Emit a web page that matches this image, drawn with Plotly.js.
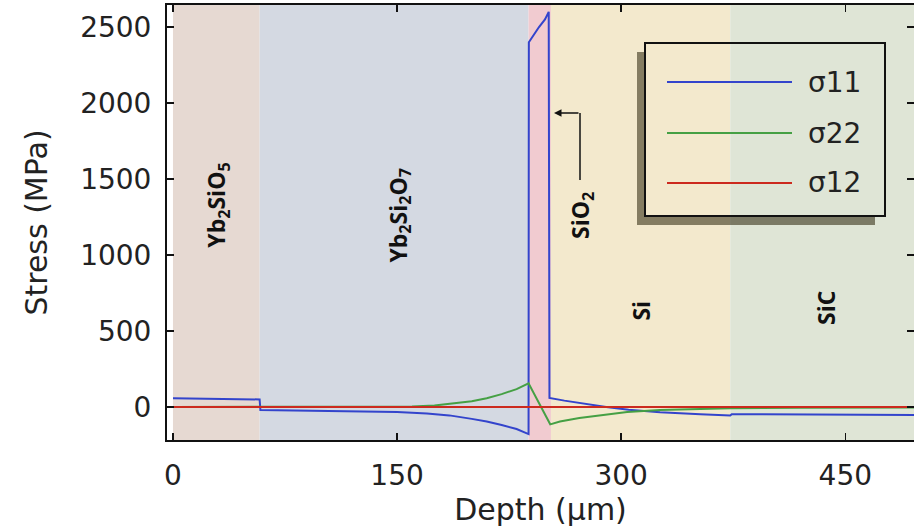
<!DOCTYPE html>
<html>
<head>
<meta charset="utf-8">
<script src="https://cdn.plot.ly/plotly-3.0.1.min.js"></script>
<style>
  html, body { margin: 0; padding: 0; background: #fff; }
  #chart { width: 914px; height: 531px; }
</style>
</head>
<body>
<div id="chart"></div>
<script>
// Layer stack (depth boundaries in µm) and their fill colours
const layerNames = ['<b>Yb<sub>2</sub>SiO<sub>5</sub></b>', '<b>Yb<sub>2</sub>Si<sub>2</sub>O<sub>7</sub></b>',
                    '<b>SiO<sub>2</sub></b>', '<b>Si</b>', '<b>SiC</b>'];
const layerEdges = [0, 58, 238, 253, 373, 500];
const layerColors = ['#e6d9d2', '#d4d9e2', '#f1cbd0', '#f3e9cd', '#dfe5d6'];

// Label anchor for each layer name (depth µm, stress MPa)
const labelDepth = [30, 151, 273, 313, 437];
const labelStress = [1330, 1263, 1263, 632, 651];

// σ11 through the thickness
const depth11 = [0, 58, 58.5, 100, 130, 150, 170, 185, 200, 210, 220, 230, 238, 238.2, 245, 249, 251.5, 252,
                 262, 275, 290, 305, 326, 353, 373, 374, 420, 496];
const sigma11 = [57, 50, -20, -25, -28, -32, -42, -55, -78, -95, -118, -145, -178, 2400, 2500, 2550, 2600, 60,
                 42, 22, 0, -18, -35, -48, -56, -47, -50, -52];

// σ22 through the thickness
const depth22 = [0, 58, 100, 120, 140, 160, 175, 190, 200, 210, 220, 230, 238, 252.5,
                 259, 272, 290, 304, 326, 350, 373, 420, 496];
const sigma22 = [0, 0, 0, 0.5, 2, 4, 10, 24, 38, 58, 85, 118, 156, -114,
                 -95, -72, -48, -33, -20, -14, -8, -4, -3];

// σ12 through the thickness
const depth12 = [-4, 500];
const sigma12 = [0, 0];

const seriesNames = ['σ11', 'σ22', 'σ12'];
const seriesColors = ['#3344cc', '#45a044', '#cc2a1e'];

// plot-area geometry in pixels, used to place the hand-made legend
const L = 167, R = 914, T = 5, B = 440;
const px = x => (x - L) / (R - L);
const py = y => (B - y) / (B - T);

const traces = [
  { x: depth11, y: sigma11, name: seriesNames[0] },
  { x: depth22, y: sigma22, name: seriesNames[1] },
  { x: depth12, y: sigma12, name: seriesNames[2] }
].map((t, i) => Object.assign(t, {
  type: 'scatter', mode: 'lines', showlegend: false, cliponaxis: true,
  line: { color: seriesColors[i], width: 2 }
}));

const shapes = [];
// coloured layer bands
for (let i = 0; i < layerColors.length; i++) {
  shapes.push({ type: 'rect', layer: 'below', xref: 'x', yref: 'paper',
    x0: layerEdges[i], x1: layerEdges[i + 1], y0: 0, y1: 1,
    fillcolor: layerColors[i], line: { width: 0 } });
}
// legend shadow (left and bottom strips) and frame
shapes.push({ type: 'path', xref: 'paper', yref: 'paper', layer: 'above',
  path: `M${px(637)},${py(52)} L${px(645)},${py(52)} L${px(645)},${py(216)} L${px(875)},${py(216)} L${px(875)},${py(225)} L${px(637)},${py(225)} Z`,
  fillcolor: 'rgba(40,35,10,0.55)', line: { width: 0 } });
shapes.push({ type: 'rect', xref: 'paper', yref: 'paper', layer: 'above',
  x0: px(645), x1: px(885), y0: py(216), y1: py(43),
  fillcolor: 'rgba(0,0,0,0)', line: { color: '#111', width: 2 } });
// legend line samples
const rowY = [82, 133, 183];
for (let i = 0; i < 3; i++) {
  shapes.push({ type: 'line', xref: 'paper', yref: 'paper', layer: 'above',
    x0: px(667), x1: px(792), y0: py(rowY[i]), y1: py(rowY[i]),
    line: { color: seriesColors[i], width: 2 } });
}
// elbow of the SiO2 pointer
shapes.push({ type: 'line', xref: 'paper', yref: 'paper', layer: 'above',
  x0: px(580), x1: px(580), y0: py(113), y1: py(180),
  line: { color: '#111', width: 1.5 } });

const annotations = [];
for (let i = 0; i < layerNames.length; i++) {
  annotations.push({ xref: 'x', yref: 'y', x: labelDepth[i], y: labelStress[i],
    text: layerNames[i], textangle: -90, showarrow: false,
    font: { family: 'Open Sans', size: 23, color: '#111' } });
}
for (let i = 0; i < 3; i++) {
  annotations.push({ xref: 'paper', yref: 'paper', x: px(806), y: py(rowY[i]),
    xanchor: 'left', yanchor: 'middle', text: seriesNames[i], showarrow: false,
    font: { family: 'DejaVu Sans', size: 28, color: '#222' } });
}
annotations.push({ xref: 'paper', yref: 'paper', x: px(554), y: py(113),
  ax: 26, ay: 0, text: '', showarrow: true, arrowhead: 2, arrowsize: 1,
  arrowwidth: 1.5, arrowcolor: '#111' });

const axisCommon = {
  showgrid: false, zeroline: false, showline: true, linecolor: '#111', linewidth: 2,
  mirror: 'ticks', ticks: 'inside', ticklen: 7, tickwidth: 1.5, tickcolor: '#111',
  tickfont: { family: 'DejaVu Sans', size: 28, color: '#222' }
};

const layout = {
  width: 914, height: 531,
  margin: { l: L, r: 914 - R, t: T, b: 531 - B },
  paper_bgcolor: '#ffffff', plot_bgcolor: '#ffffff',
  xaxis: Object.assign({}, axisCommon, {
    range: [-4, 496], tickmode: 'array', tickvals: [0, 150, 300, 450],
    ticklabelstandoff: 9,
    title: { text: 'Depth (µm)', font: { family: 'DejaVu Sans', size: 30, color: '#222' }, standoff: 8 }
  }),
  yaxis: Object.assign({}, axisCommon, {
    range: [-217, 2645], tickmode: 'array', tickvals: [0, 500, 1000, 1500, 2000, 2500],
    ticklabelstandoff: 8,
    title: { text: 'Stress (MPa)', font: { family: 'DejaVu Sans', size: 30, color: '#222' }, standoff: 24 }
  }),
  shapes: shapes,
  annotations: annotations
};

Plotly.newPlot('chart', traces, layout, { displayModeBar: false, staticPlot: true });
</script>
</body>
</html>
